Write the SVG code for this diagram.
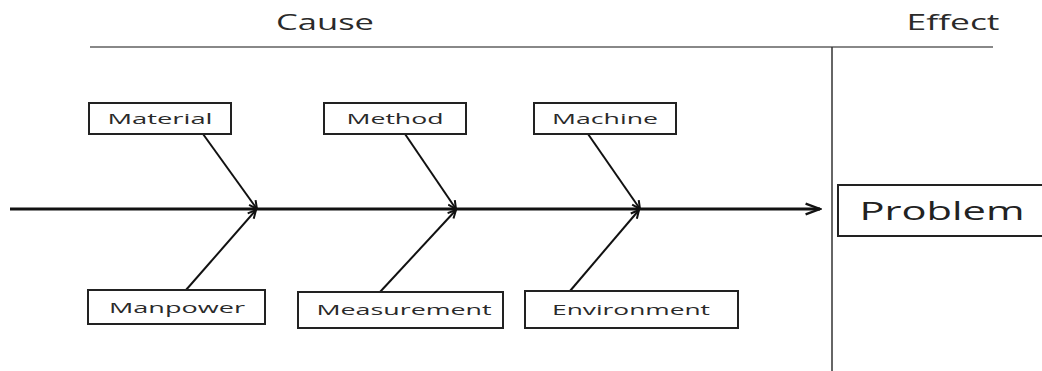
<svg xmlns="http://www.w3.org/2000/svg" width="1042" height="371" viewBox="0 0 1042 371">
  <style>
    .box { fill: #fff; stroke: #222; stroke-width: 2; }
    .lbl { font-family: "Open Sans", "Noto Sans", sans-serif; font-size: 14px; fill: #2a2a2a; text-anchor: middle; }
    .head { font-family: "Open Sans", "Noto Sans", sans-serif; font-size: 21px; fill: #2a2a2a; text-anchor: middle; }
    .rib { stroke: #111; stroke-width: 2; fill: none; marker-end: url(#tip); }
    .rule { stroke: #888; stroke-width: 2; fill: none; }
  </style>
  <defs>
    <marker id="tip" viewBox="0 0 10 10" refX="9" refY="5" markerWidth="5" markerHeight="5" orient="auto" markerUnits="strokeWidth">
      <path d="M1,1 L9,5 L1,9" fill="none" stroke="#111" stroke-width="2"/>
    </marker>
    <marker id="bigtip" viewBox="0 0 10 10" refX="9" refY="5" markerWidth="6" markerHeight="6" orient="auto" markerUnits="strokeWidth">
      <path d="M1,2 L9,5 L1,8" fill="none" stroke="#111" stroke-width="1.3"/>
    </marker>
  </defs>

  <!-- header rules and titles -->
  <line class="rule" x1="90" y1="47" x2="993" y2="47"/>
  <line x1="832" y1="47" x2="832" y2="371" stroke="#333" stroke-width="1.5"/>
  <text class="head" x="325" y="30" textLength="98" lengthAdjust="spacingAndGlyphs">Cause</text>
  <text class="head" x="953" y="30" textLength="93" lengthAdjust="spacingAndGlyphs">Effect</text>

  <!-- spine and ribs -->
  <g id="connectors">
    <line x1="10" y1="209" x2="820" y2="209" stroke="#111" stroke-width="3" marker-end="url(#bigtip)"/>
    <line class="rib" x1="203" y1="134" x2="257" y2="209"/>
    <line class="rib" x1="405" y1="134" x2="456" y2="209"/>
    <line class="rib" x1="588" y1="134" x2="640" y2="209"/>
    <line class="rib" x1="186" y1="290" x2="256" y2="210"/>
    <line class="rib" x1="380" y1="292" x2="456" y2="210"/>
    <line class="rib" x1="570" y1="291" x2="639" y2="210"/>
  </g>

  <g id="material">
    <rect class="box" x="89" y="103" width="142" height="31"/>
    <text class="lbl" x="160" y="124" textLength="105" lengthAdjust="spacingAndGlyphs">Material</text>
  </g>
  <g id="method">
    <rect class="box" x="324" y="103" width="142" height="31"/>
    <text class="lbl" x="395" y="124" textLength="97" lengthAdjust="spacingAndGlyphs">Method</text>
  </g>
  <g id="machine">
    <rect class="box" x="534" y="103" width="142" height="31"/>
    <text class="lbl" x="605" y="124" textLength="106" lengthAdjust="spacingAndGlyphs">Machine</text>
  </g>
  <g id="manpower">
    <rect class="box" x="88" y="290" width="177" height="34"/>
    <text class="lbl" x="177" y="313" textLength="136" lengthAdjust="spacingAndGlyphs">Manpower</text>
  </g>
  <g id="measurement">
    <rect class="box" x="298" y="292" width="205" height="36"/>
    <text class="lbl" x="404" y="315" textLength="175" lengthAdjust="spacingAndGlyphs">Measurement</text>
  </g>
  <g id="environment">
    <rect class="box" x="525" y="291" width="213" height="37"/>
    <text class="lbl" x="631" y="315" textLength="158" lengthAdjust="spacingAndGlyphs">Environment</text>
  </g>
  <g id="problem">
    <rect class="box" x="838" y="185" width="210" height="51"/>
    <text x="942" y="220" font-family="'Open Sans', 'Noto Sans', sans-serif" font-size="25" fill="#222" text-anchor="middle" textLength="165" lengthAdjust="spacingAndGlyphs">Problem</text>
  </g>
</svg>
